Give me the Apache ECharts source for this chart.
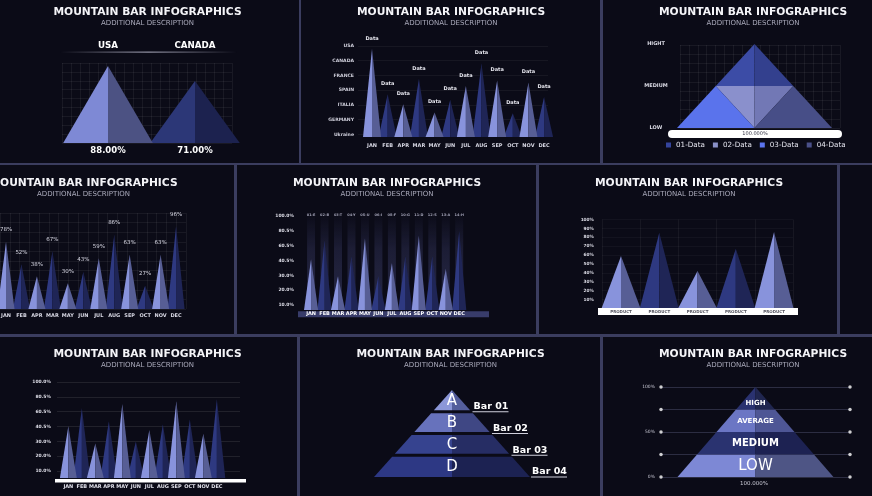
<!DOCTYPE html>
<html><head><meta charset="utf-8">
<script src="https://cdn.jsdelivr.net/npm/echarts@6/dist/echarts.min.js"></script>
<style>
html,body{margin:0;padding:0;background:#3b3d5f;width:872px;height:496px;overflow:hidden}
.p{position:absolute;background:#0b0b17}
#c{position:absolute;left:0;top:0;width:872px;height:496px}
</style></head><body>
<div class="p" style="left:0;top:0;width:299px;height:163px"></div>
<div class="p" style="left:301px;top:0;width:299px;height:163px"></div>
<div class="p" style="left:603px;top:0;width:269px;height:163px"></div>
<div class="p" style="left:0;top:165px;width:234px;height:169px"></div>
<div class="p" style="left:237px;top:165px;width:299px;height:169px"></div>
<div class="p" style="left:539px;top:165px;width:298px;height:169px"></div>
<div class="p" style="left:840px;top:165px;width:32px;height:169px"></div>
<div class="p" style="left:0;top:337px;width:297px;height:159px"></div>
<div class="p" style="left:300px;top:337px;width:300px;height:159px"></div>
<div class="p" style="left:603px;top:337px;width:269px;height:159px"></div>
<div id="c"></div>
<script>
// ---------------- DATA ----------------
const titleText = 'MOUNTAIN BAR INFOGRAPHICS';
const subtitleText = 'ADDITIONAL DESCRIPTION';

const p1Countries = ['USA', 'CANADA'];
const p1Values = [88, 71];

const p2Months = ['JAN','FEB','APR','MAR','MAY','JUN','JUL','AUG','SEP','OCT','NOV','DEC'];
const p2Values = [97, 47, 36, 64, 27, 41, 56, 81, 62, 26, 60, 44];
const p2Countries = ['Ukraine','GERMANY','ITALIA','SPAIN','FRANCE','CANADA','USA'];
const p2Tag = 'Data';

const p3Levels = ['LOW', 'MEDIUM', 'HIGHT'];
const p3Pieces = ['01-Data', '02-Data', '03-Data', '04-Data'];
const p3Total = '100.000%';

const p4Months = ['JAN','FEB','APR','MAR','MAY','JUN','JUL','AUG','SEP','OCT','NOV','DEC'];
const p4Values = [78, 52, 38, 67, 30, 43, 59, 86, 63, 27, 63, 96];

const p5Months = ['JAN','FEB','MAR','APR','MAY','JUN','JUL','AUG','SEP','OCT','NOV','DEC'];
const p5Values = [54, 74, 36, 57, 76, 36, 50, 57, 79, 57, 44, 84];
const p5Track = [100, 100, 100, 100, 100, 100, 100, 100, 100, 100, 100, 100];
const p5Codes = ['01-E','02-B','03-T','04-Y','05-U','06-I','08-F','10-G','11-D','12-S','13-A','14-H'];
const p5Ticks = ['10.0%','20.0%','30.0%','40.5%','60.5%','80.5%','100.0%'];

const p6Products = ['PRODUCT','PRODUCT','PRODUCT','PRODUCT','PRODUCT'];
const p6Values = [59, 85, 42, 67, 86];

const p7Months = ['JAN','FEB','MAR','APR','MAY','JUN','JUL','AUG','SEP','OCT','NOV','DEC'];
const p7Values = [54, 73, 36, 59, 77, 38, 50, 56, 80, 61, 46, 82];
const p7Ticks = ['10.0%','20.0%','30.0%','40.5%','60.5%','80.5%','100.0%'];

const p8Letters = ['A', 'B', 'C', 'D'];
const p8Labels = ['Bar 01', 'Bar 02', 'Bar 03', 'Bar 04'];

const p9Levels = ['LOW', 'MEDIUM', 'AVERAGE', 'HIGH'];
const p9Bounds = [0, 25, 50, 75, 100];
const p9Total = '100.000%';

// ---------------- STYLE ----------------
const FONT = '"DejaVu Sans", sans-serif';
const LIGHT = ['#8893dc', '#575e95', 2];
const DARK = ['#2e3981', '#1f2556', 1];
const alt = i => (i % 2 === 0 ? LIGHT : DARK);
const fnt = (w, s) => w + ' ' + s + 'px ' + FONT;

const grid = [], xAxis = [], yAxis = [], series = [], graphic = [];
const hide = { axisLine: { show: false }, axisTick: { show: false } };

function addGrid(r) {
  grid.push({ left: r[0], top: r[1], width: r[2], height: r[3], outerBoundsMode: 'none', containLabel: false });
  return grid.length - 1;
}
function addX(o) { xAxis.push(Object.assign({}, hide, o)); return xAxis.length - 1; }
function addY(o) { yAxis.push(Object.assign({}, hide, o)); return yAxis.length - 1; }
function hiddenVal(gi, min, max) { return { gridIndex: gi, type: 'value', min: min, max: max, show: false }; }
function catLabel(size, color, extra) {
  return Object.assign({ show: true, interval: 0, fontSize: size, color: color, fontWeight: 'bold', fontFamily: FONT }, extra || {});
}

function faintGrid(r, nx, ny, color) {
  const gi = addGrid(r);
  const sl = { show: true, lineStyle: { color: color || 'rgba(255,255,255,0.06)', width: 1 } };
  addX({ gridIndex: gi, type: 'value', min: 0, max: nx, interval: 1, axisLabel: { show: false }, splitLine: sl });
  addY({ gridIndex: gi, type: 'value', min: 0, max: ny, interval: 1, axisLabel: { show: false }, splitLine: sl });
}

function mountains(xi, yi, values, colorFor, wf, label) {
  series.push({
    type: 'custom', xAxisIndex: xi, yAxisIndex: yi, silent: true, z: 3,
    data: values.map((v, i) => [i, v]),
    renderItem: (params, api) => {
      const i = api.value(0), v = api.value(1);
      const b = api.coord([i, 0]), t = api.coord([i, v]);
      const hw = api.size([1, 0])[0] * wf / 2;
      const c = colorFor(params.dataIndex);
      const ch = [
        { type: 'polygon', z2: c[2], shape: { points: [[b[0] - hw, b[1]], [t[0], t[1]], [b[0], b[1]]] }, style: { fill: c[0] } },
        { type: 'polygon', z2: c[2], shape: { points: [[b[0], b[1]], [t[0], t[1]], [b[0] + hw, b[1]]] }, style: { fill: c[1] } }
      ];
      if (label) {
        ch.push({ type: 'text', z2: 5, x: t[0], y: t[1] - label.gap,
          style: { text: label.text(params.dataIndex), fill: label.color, font: label.font, align: 'center', verticalAlign: 'middle' } });
      }
      return { type: 'group', children: ch };
    }
  });
}

// ---------------- TITLES ----------------
const titlePos = [[147.5, 12], [451, 12], [753, 12], [83.5, 183], [387, 183], [689, 183], [147.5, 354], [450.5, 354], [753, 354]];
titlePos.forEach(p => {
  graphic.push({ type: 'text', x: p[0], y: p[1], z: 20, style: { text: titleText, fill: '#f4f4f8', font: fnt('bold', 10.7), align: 'center', verticalAlign: 'middle' } });
  graphic.push({ type: 'text', x: p[0], y: p[1] + 11.5, z: 20, style: { text: subtitleText, fill: '#a9a9ba', font: fnt('normal', 7), align: 'center', verticalAlign: 'middle' } });
});

// ---------------- PANEL 1 ----------------
faintGrid([62, 63, 170, 80], 19, 9);
graphic.push({ type: 'rect', z: 5, shape: { x: 60, y: 51.5, width: 177, height: 1.2 },
  style: { fill: new echarts.graphic.LinearGradient(0, 0, 1, 0, [
    { offset: 0, color: 'rgba(200,200,220,0)' }, { offset: 0.5, color: 'rgba(200,200,220,0.7)' }, { offset: 1, color: 'rgba(200,200,220,0)' }]) } });
(function () {
  const gi = addGrid([64.5, 55.5, 174, 87.5]);
  const xt = addX({ gridIndex: gi, type: 'category', position: 'top', data: p1Countries, axisLabel: catLabel(8.7, '#ffffff', { margin: 5.5 }) });
  addX({ gridIndex: gi, type: 'category', position: 'bottom', data: p1Values.map(v => v.toFixed(2) + '%'), axisLabel: catLabel(8.5, '#ffffff', { margin: 3.5 }) });
  const y = addY(hiddenVal(gi, 0, 100));
  const cols = [['#7e89d5', '#4c5283', 2], ['#2c3777', '#1c224f', 1]];
  mountains(xt, y, p1Values, i => cols[i], 1.03);
})();

// ---------------- PANEL 2 ----------------
(function () {
  const g0 = addGrid([358, 46, 190, 88.3]);
  addX(hiddenVal(g0, 0, 1));
  addY({ gridIndex: g0, type: 'category', boundaryGap: false, data: p2Countries,
    axisLabel: catLabel(4.6, '#d0d0dc', { margin: 4 }), splitLine: { show: true, lineStyle: { color: 'rgba(255,255,255,0.05)' } } });
  const gi = addGrid([364.2, 46, 187.7, 91]);
  const x = addX({ gridIndex: gi, type: 'category', data: p2Months, axisLabel: catLabel(5, '#d8d8e4', { margin: 6 }) });
  const y = addY(hiddenVal(gi, 0, 100));
  mountains(x, y, p2Values, alt, 1.15, { text: () => p2Tag, gap: 10.5, color: '#e6e6ee', font: fnt('bold', 5) });
})();

// ---------------- PANEL 3 ----------------
faintGrid([680, 45, 160, 83], 18, 9);
(function () {
  const gi = addGrid([677, 44, 155, 84]);
  const x = addX(hiddenVal(gi, -1, 1));
  const y = addY({ gridIndex: gi, type: 'value', min: 0, max: 100, interval: 50, splitLine: { show: false },
    axisLabel: { show: true, formatter: v => p3Levels[v / 50], align: 'center', margin: 21, fontSize: 5, fontWeight: 'bold', color: '#dcdce6', fontFamily: FONT } });
  const top = 100, mid = 50, base = 0;
  const w = yv => 1 - yv / top;
  const shapes = [
    { legend: '#34449c', parts: [[[0, top], [-w(mid), mid], [0, mid], '#3c4ca6'], [[0, top], [0, mid], [w(mid), mid], '#33408e']] },
    { legend: '#8a90c8', parts: [[[-w(mid), mid], [0, mid], [0, base], '#8a90cc'], [[0, mid], [w(mid), mid], [0, base], '#7278b5']] },
    { legend: '#5b74ef', parts: [[[-1, base], [-w(mid), mid], [0, base], '#5a73ec']] },
    { legend: '#4a5089', parts: [[[0, base], [w(mid), mid], [1, base], '#474e87']] }
  ];
  p3Pieces.forEach((name, k) => {
    series.push({ type: 'custom', name: name, xAxisIndex: x, yAxisIndex: y, silent: true, z: 3,
      itemStyle: { color: shapes[k].legend }, data: [[0, top]],
      renderItem: (params, api) => ({ type: 'group', children: shapes[k].parts.map(pp => ({
        type: 'polygon', shape: { points: pp.slice(0, 3).map(q => api.coord(q)) }, style: { fill: pp[3] } })) })
    });
  });
})();
graphic.push({ type: 'rect', z: 6, shape: { x: 668, y: 130, width: 174, height: 8, r: 4 }, style: { fill: '#ffffff' } });
graphic.push({ type: 'text', z: 7, x: 755, y: 134.2, style: { text: p3Total, fill: '#333344', font: fnt('normal', 5), align: 'center', verticalAlign: 'middle' } });

// ---------------- PANEL 4 ----------------
faintGrid([0, 213, 186, 96], 19, 10);
(function () {
  const gi = addGrid([-1.7, 222.8, 185.5, 86.2]);
  const x = addX({ gridIndex: gi, type: 'category', data: p4Months, axisLabel: catLabel(5, '#d8d8e4', { margin: 4.5 }) });
  const y = addY(hiddenVal(gi, 0, 100));
  mountains(x, y, p4Values, alt, 1.1, { text: i => p4Values[i] + '%', gap: 12, color: '#d8d8e4', font: fnt('normal', 5.5) });
})();

// ---------------- PANEL 5 ----------------
(function () {
  const g0 = addGrid([300, 216, 10, 89]);
  addX(hiddenVal(g0, 0, 1));
  addY({ gridIndex: g0, type: 'category', boundaryGap: false, data: p5Ticks, axisLabel: catLabel(4.5, '#dcdce6', { margin: 6 }) });
  const gi = addGrid([304.35, 216, 161.6, 94]);
  const x = addX({ gridIndex: gi, type: 'category', data: p5Months, z: 10, axisLabel: catLabel(5, '#ffffff', { margin: 1.5 }) });
  addX({ gridIndex: gi, type: 'category', position: 'top', data: p5Codes, axisLabel: catLabel(3.5, '#a0a0b4', { margin: 1, verticalAlign: 'middle' }) });
  const y = addY(hiddenVal(gi, 0, 100));
  series.push({ type: 'bar', xAxisIndex: x, yAxisIndex: y, data: p5Track, barWidth: 8, silent: true, z: 1,
    itemStyle: { color: new echarts.graphic.LinearGradient(0, 0, 0, 1, [
      { offset: 0, color: 'rgba(50,52,90,0.05)' }, { offset: 0.35, color: 'rgba(50,52,90,0.45)' }, { offset: 1, color: 'rgba(50,52,90,0.7)' }]) } });
  mountains(x, y, p5Values, alt, 1.05);
})();
graphic.push({ type: 'rect', z: 5, shape: { x: 298, y: 311.3, width: 191, height: 6 }, style: { fill: '#383c6a' } });

// ---------------- PANEL 6 ----------------
(function () {
  const gi = addGrid([601.9, 219.5, 191.3, 89]);
  const x = addX({ gridIndex: gi, type: 'category', data: p6Products, z: 10, axisLabel: catLabel(4, '#555560', { margin: 1.2 }),
    splitLine: { show: true, lineStyle: { color: 'rgba(255,255,255,0.05)' } } });
  const y = addY({ gridIndex: gi, type: 'value', min: 0, max: 100, interval: 10,
    axisLabel: { show: true, showMinLabel: false, formatter: v => v + '%', margin: 8, fontSize: 4.3, fontWeight: 'bold', color: '#dcdce6', fontFamily: FONT },
    splitLine: { show: true, lineStyle: { color: 'rgba(255,255,255,0.035)' } } });
  mountains(x, y, p6Values, alt, 1.02);
})();
graphic.push({ type: 'rect', z: 5, shape: { x: 598, y: 308, width: 200, height: 7 }, style: { fill: '#ffffff' } });

// ---------------- PANEL 7 ----------------
(function () {
  const g0 = addGrid([57, 382, 183, 89]);
  addX(hiddenVal(g0, 0, 1));
  addY({ gridIndex: g0, type: 'category', boundaryGap: false, data: p7Ticks, axisLabel: catLabel(4.5, '#dcdce6', { margin: 6 }),
    splitLine: { show: true, lineStyle: { color: 'rgba(255,255,255,0.09)' } } });
  const gi = addGrid([61.6, 382, 162, 96]);
  const x = addX({ gridIndex: gi, type: 'category', data: p7Months, axisLabel: catLabel(5, '#e0e0ea', { margin: 6.5 }) });
  const y = addY(hiddenVal(gi, 0, 100));
  mountains(x, y, p7Values, alt, 1.25);
})();
graphic.push({ type: 'rect', z: 5, shape: { x: 55, y: 479, width: 191, height: 3.5 }, style: { fill: '#ffffff' } });

// ---------------- PANEL 8 ----------------
(function () {
  const gi = addGrid([374, 390, 156, 87]);
  const x = addX(hiddenVal(gi, -1, 1));
  const n = p8Letters.length;
  const y = addY(hiddenVal(gi, 0, n));
  const cols = [['#8c97d8', '#545e9c'], ['#6772bc', '#3f4784'], ['#36438f', '#262d64'], ['#2d3884', '#1c2252']];
  series.push({ type: 'custom', xAxisIndex: x, yAxisIndex: y, silent: true, z: 3,
    data: p8Letters.map((l, i) => [i, n - i]),
    renderItem: (params, api) => {
      const i = params.dataIndex, gap = 0.07;
      const top = n - i - (i > 0 ? gap : 0), bot = n - 1 - i + (i < n - 1 ? gap : 0);
      const w = v => 1 - v / n;
      const P = (a, b) => api.coord([a, b]);
      const tl = P(-w(top), top), tc = P(0, top), tr = P(w(top), top), bl = P(-w(bot), bot), bc = P(0, bot), br = P(w(bot), bot);
      const edge = P(w(n - 1 - i), n - 1 - i);
      const mid = P(0, (top + bot) / 2);
      return { type: 'group', children: [
        { type: 'polygon', shape: { points: [tl, tc, bc, bl] }, style: { fill: cols[i][0] } },
        { type: 'polygon', shape: { points: [tc, tr, br, bc] }, style: { fill: cols[i][1] } },
        { type: 'text', x: mid[0], y: mid[1] + 0.5, style: { text: p8Letters[i], fill: '#ffffff', font: fnt('normal', 15), align: 'center', verticalAlign: 'middle' } },
        { type: 'text', x: edge[0] + 2, y: edge[1] - 5, style: { text: p8Labels[i], fill: '#ffffff', font: fnt('bold', 9.5), align: 'left', verticalAlign: 'middle' } },
        { type: 'line', shape: { x1: edge[0] + 1, y1: edge[1], x2: edge[0] + 37, y2: edge[1] }, style: { stroke: '#d0d0dc', lineWidth: 1 } }
      ] };
    }
  });
})();

// ---------------- PANEL 9 ----------------
(function () {
  const gi = addGrid([661, 387, 189, 90]);
  const x = addX(hiddenVal(gi, -1, 1));
  const y = addY({ gridIndex: gi, type: 'value', min: 0, max: 100, interval: 25,
    axisLabel: { show: true, formatter: v => (v % 50 === 0 ? v + '%' : ''), margin: 6, fontSize: 4.5, color: '#c8c8d4', fontFamily: FONT },
    splitLine: { show: true, lineStyle: { color: '#2c2d42', width: 1 } } });
  series.push({ type: 'scatter', xAxisIndex: x, yAxisIndex: y, silent: true, symbolSize: 3.5, z: 4,
    itemStyle: { color: '#ffffff' }, data: p9Bounds.flatMap(v => [[-1, v], [1, v]]) });
  const cols = [['#7d88d5', '#4e5585'], ['#2a3370', '#1d2252'], ['#6b76c4', '#4e5695'], ['#2a3270', '#20264f']];
  const sizes = [15, 10, 7, 7];
  const halfBase = 0.825;
  series.push({ type: 'custom', xAxisIndex: x, yAxisIndex: y, silent: true, z: 3,
    data: p9Levels.map((l, i) => [i, p9Bounds[i + 1]]),
    renderItem: (params, api) => {
      const i = params.dataIndex;
      const lo = p9Bounds[i], hi = p9Bounds[i + 1];
      const w = v => halfBase * (1 - v / 100);
      const P = (a, b) => api.coord([a, b]);
      const tl = P(-w(hi), hi), tc = P(0, hi), tr = P(w(hi), hi), bl = P(-w(lo), lo), bc = P(0, lo), br = P(w(lo), lo);
      const ty = i === p9Levels.length - 1 ? lo + (hi - lo) * 0.3 : (lo + hi) / 2;
      const m = P(0, ty);
      return { type: 'group', children: [
        { type: 'polygon', shape: { points: [tl, tc, bc, bl] }, style: { fill: cols[i][0] } },
        { type: 'polygon', shape: { points: [tc, tr, br, bc] }, style: { fill: cols[i][1] } },
        { type: 'text', x: m[0], y: m[1], style: { text: p9Levels[i], fill: '#ffffff', font: fnt(i === 0 ? 'normal' : 'bold', sizes[i]), align: 'center', verticalAlign: 'middle' } }
      ] };
    }
  });
})();
graphic.push({ type: 'text', z: 7, x: 754, y: 484, style: { text: p9Total, fill: '#c8c8d4', font: fnt('normal', 5.5), align: 'center', verticalAlign: 'middle' } });

// ---------------- CHART ----------------
const chart = echarts.init(document.getElementById('c'), null, { renderer: 'canvas' });
chart.setOption({
  animation: false,
  backgroundColor: 'transparent',
  tooltip: { show: false },
  legend: {
    show: true, selectedMode: false, orient: 'horizontal', left: 666, top: 141.5, padding: 0,
    itemWidth: 5, itemHeight: 5, itemGap: 8, icon: 'rect', data: p3Pieces,
    textStyle: { color: '#e6e6f0', fontSize: 7.2, fontFamily: FONT }
  },
  grid: grid, xAxis: xAxis, yAxis: yAxis, series: series,
  graphic: { elements: graphic }
});
</script>
</body></html>
